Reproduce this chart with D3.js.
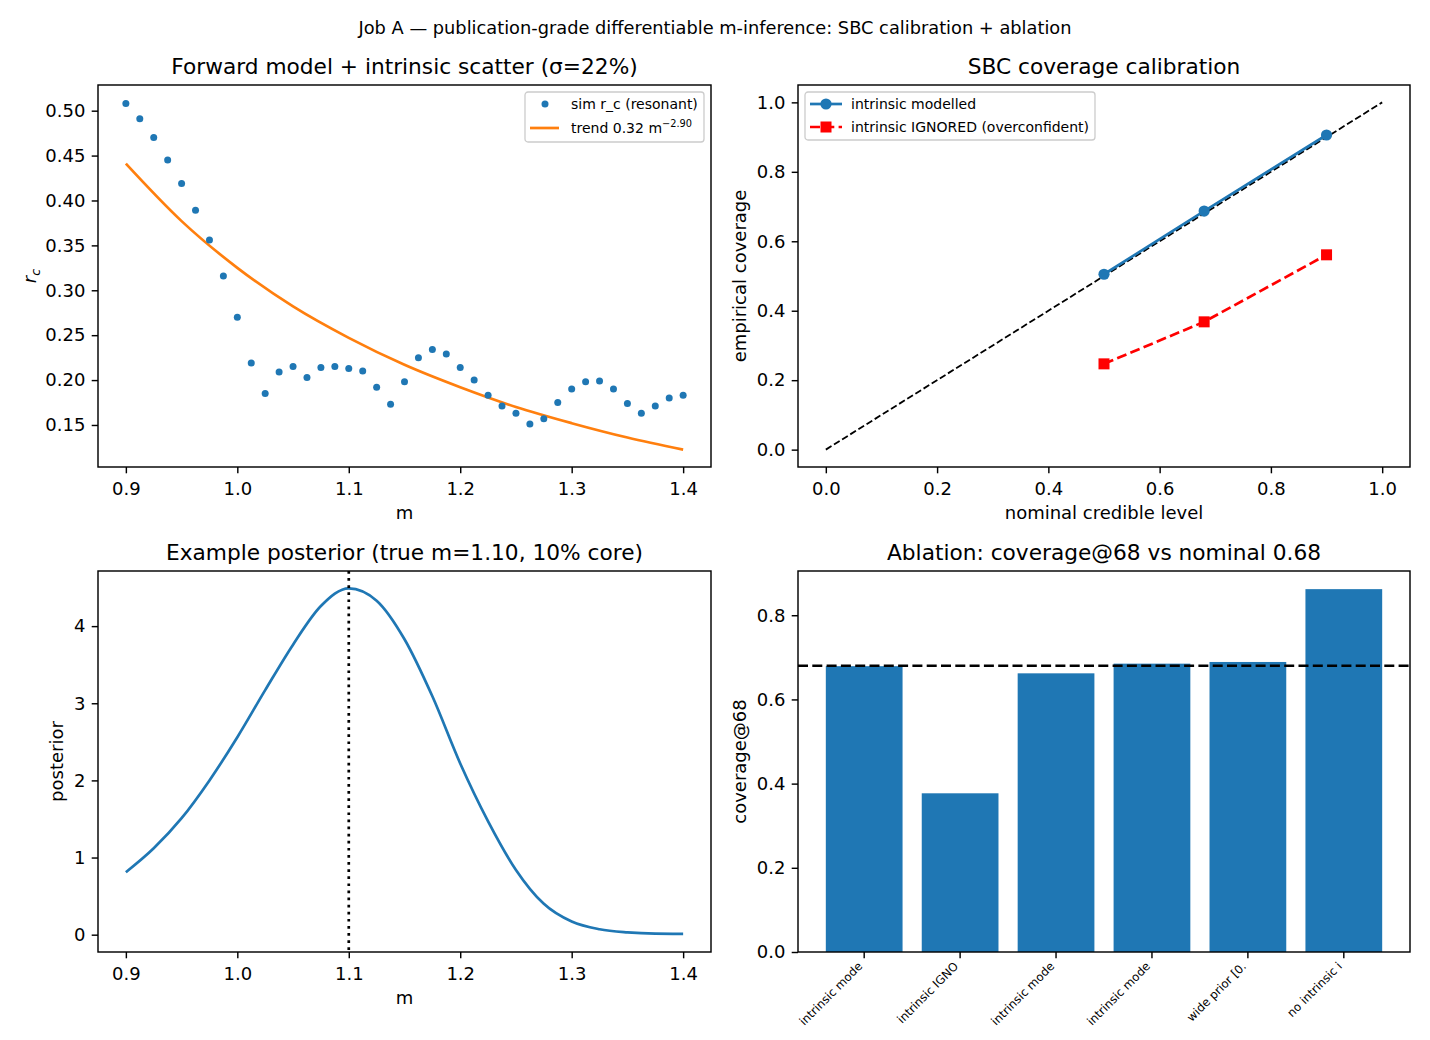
<html>
<head>
<script src="https://cdn.jsdelivr.net/npm/d3@7/dist/d3.min.js"></script>
<style>
  body { margin: 0; background: #fff; }
  text { font-family: "DejaVu Sans", sans-serif; fill: #000; }
</style>
</head>
<body>
<svg id="CANVAS" width="1430" height="1040"></svg>
<script>

// ---- data ----
var simM = [0.9, 0.9125, 0.925, 0.9375, 0.95, 0.9625, 0.975, 0.9875, 1.0, 1.0125,
    1.025, 1.0375, 1.05, 1.0625, 1.075, 1.0875, 1.1, 1.1125, 1.125, 1.1375,
    1.15, 1.1625, 1.175, 1.1875, 1.2, 1.2125, 1.225, 1.2375, 1.25, 1.2625,
    1.275, 1.2875, 1.3, 1.3125, 1.325, 1.3375, 1.35, 1.3625, 1.375, 1.3875, 1.4];
var simRc = [0.508, 0.491, 0.470, 0.445, 0.419, 0.389, 0.356, 0.316, 0.270, 0.219,
    0.185, 0.209, 0.215, 0.203, 0.214, 0.215, 0.213, 0.210, 0.192, 0.173,
    0.198, 0.225, 0.234, 0.229, 0.214, 0.200, 0.183, 0.171, 0.163, 0.151,
    0.157, 0.175, 0.190, 0.198, 0.199, 0.190, 0.174, 0.163, 0.171, 0.180, 0.183];

var trendM = [0.9, 0.95, 1.0, 1.05, 1.1, 1.15, 1.2, 1.25, 1.3, 1.35, 1.4];
var trendRc = [0.441, 0.377, 0.325, 0.282, 0.247, 0.217, 0.192, 0.170, 0.152, 0.136, 0.1225];

var nominal = [0.5, 0.68, 0.9];
var covModelled = [0.505, 0.687, 0.906];
var covIgnored = [0.247, 0.368, 0.561];

var postM = [0.9, 0.925, 0.95, 0.975, 1.0, 1.025, 1.05, 1.075, 1.1, 1.125, 1.15,
    1.175, 1.2, 1.225, 1.25, 1.275, 1.3, 1.325, 1.35, 1.375, 1.4];
var postP = [0.81, 1.12, 1.51, 2.00, 2.56, 3.17, 3.76, 4.26, 4.49, 4.33, 3.83,
    3.09, 2.22, 1.47, 0.84, 0.40, 0.17, 0.07, 0.03, 0.013, 0.01];
var trueM = 1.10;

var ablLabels = ["intrinsic mode", "intrinsic IGNO", "intrinsic mode",
    "intrinsic mode", "wide prior [0.", "no intrinsic i"];
var ablCov = [0.679, 0.377, 0.662, 0.685, 0.689, 0.862];
var nominalLevel = 0.68;

var tlXTicks = [0.9, 1.0, 1.1, 1.2, 1.3, 1.4];
var tlYTicks = [0.15, 0.20, 0.25, 0.30, 0.35, 0.40, 0.45, 0.50];
var trTicks = [0.0, 0.2, 0.4, 0.6, 0.8, 1.0];
var blYTicks = [0, 1, 2, 3, 4];
var brYTicks = [0.0, 0.2, 0.4, 0.6, 0.8];

// ---- style ----
var BLUE = "#1f77b4", ORANGE = "#ff7f0e", RED = "#ff0000";
var FS = 18, TFS = 21.7, LFS = 14, TICK = 6.3, LW = 2.7, SP = 1.44;

var svg = d3.select("#CANVAS");
svg.append("rect").attr("width", 1430).attr("height", 1040).attr("fill", "#fff");

svg.append("text")
    .attr("x", 715).attr("y", 34)
    .attr("text-anchor", "middle")
    .style("font-size", "17.8px")
    .text("Job A \u2014 publication-grade differentiable m-inference: SBC calibration + ablation");

function MakeAxes(o) {
    var g = svg.append("g").attr("transform", "translate(" + o.x0 + "," + o.y0 + ")");
    g.append("defs").append("clipPath").attr("id", o.id)
        .append("rect").attr("width", o.w).attr("height", o.h);
    var plot = g.append("g").attr("clip-path", "url(#" + o.id + ")");

    var xa = g.append("g").attr("transform", "translate(0," + o.h + ")")
        .call(o.xAxis.tickSizeOuter(0).tickSize(TICK).tickPadding(9));
    var ya = g.append("g")
        .call(o.yAxis.tickSizeOuter(0).tickSize(TICK).tickPadding(6.3));
    [xa, ya].forEach(function (a) {
        a.select(".domain").remove();
        a.selectAll("line").attr("stroke", "#000").attr("stroke-width", SP);
        a.selectAll("text").style("font-size", FS + "px").style("font-family", "DejaVu Sans");
    });

    var frame = g.append("rect").attr("class", "frame").attr("width", o.w).attr("height", o.h)
        .attr("fill", "none").attr("stroke", "#000").attr("stroke-width", SP);

    g.append("text").attr("x", o.w / 2).attr("y", -10.8)
        .attr("text-anchor", "middle").style("font-size", TFS + "px").text(o.title);

    if (o.xlabel) {
        g.append("text").attr("x", o.w / 2).attr("y", o.h + 52)
            .attr("text-anchor", "middle").style("font-size", FS + "px").text(o.xlabel);
    }
    return { g: g, plot: plot, xa: xa, ya: ya, frame: frame };
}

function Legend(g, x, y, w, h) {
    var L = g.append("g").attr("transform", "translate(" + x + "," + y + ")");
    L.append("rect").attr("width", w).attr("height", h).attr("rx", 3)
        .attr("fill", "#fff").attr("fill-opacity", 0.8)
        .attr("stroke", "#cccccc").attr("stroke-width", 1.3);
    return L;
}

// ============ top-left: forward model ============
(function () {
    var W = 613, H = 382;
    var x = d3.scaleLinear().domain([0.875, 1.425]).range([0, W]);
    var y = d3.scaleLinear().domain([0.1032, 0.5286]).range([H, 0]);
    var A = MakeAxes({
        id: "c1", x0: 98, y0: 85, w: W, h: H, title: "Forward model + intrinsic scatter (\u03c3=22%)",
        xlabel: "m",
        xAxis: d3.axisBottom(x).tickValues(tlXTicks).tickFormat(d3.format(".1f")),
        yAxis: d3.axisLeft(y).tickValues(tlYTicks).tickFormat(d3.format(".2f"))
    });
    A.plot.append("path")
        .datum(trendM.map(function (m, i) { return [m, trendRc[i]]; }))
        .attr("d", d3.line().x(function (d) { return x(d[0]); }).y(function (d) { return y(d[1]); })
            .curve(d3.curveMonotoneX))
        .attr("fill", "none").attr("stroke", ORANGE).attr("stroke-width", LW);
    A.plot.selectAll("circle.sim").data(simM).enter().append("circle")
        .attr("class", "sim")
        .attr("cx", function (d) { return x(d); })
        .attr("cy", function (d, i) { return y(simRc[i]); })
        .attr("r", 3.5).attr("fill", BLUE);

    var lab = A.g.append("text").attr("transform", "translate(-62," + (H / 2) + ") rotate(-90)")
        .attr("text-anchor", "middle").style("font-size", FS + "px");
    lab.append("tspan").style("font-style", "italic").text("r");
    lab.append("tspan").style("font-style", "italic").style("font-size", "12.6px")
        .attr("dy", 4).text("c");

    var L = Legend(A.g, 427, 7, 179, 50);
    L.append("circle").attr("cx", 20).attr("cy", 12).attr("r", 3.5).attr("fill", BLUE);
    L.append("line").attr("x1", 5).attr("x2", 34).attr("y1", 36).attr("y2", 36)
        .attr("stroke", ORANGE).attr("stroke-width", LW);
    L.append("text").attr("x", 46).attr("y", 17).style("font-size", LFS + "px").text("sim r_c (resonant)");
    var t = L.append("text").attr("x", 46).attr("y", 41).style("font-size", LFS + "px");
    t.append("tspan").text("trend 0.32 m");
    t.append("tspan").attr("dy", -6).style("font-size", "9.8px").text("\u22122.90");
})();

// ============ top-right: SBC coverage ============
(function () {
    var W = 612, H = 382;
    var x = d3.scaleLinear().domain([-0.05, 1.05]).range([0, W]);
    var y = d3.scaleLinear().domain([-0.05, 1.05]).range([H, 0]);
    var A = MakeAxes({
        id: "c2", x0: 798, y0: 85, w: W, h: H, title: "SBC coverage calibration",
        xlabel: "nominal credible level",
        xAxis: d3.axisBottom(x).tickValues(trTicks).tickFormat(d3.format(".1f")),
        yAxis: d3.axisLeft(y).tickValues(trTicks).tickFormat(d3.format(".1f"))
    });
    A.g.append("text").attr("transform", "translate(-52," + (H / 2) + ") rotate(-90)")
        .attr("text-anchor", "middle").style("font-size", FS + "px").text("empirical coverage");

    var line = d3.line().x(function (d) { return x(d[0]); }).y(function (d) { return y(d[1]); });
    A.plot.append("path").datum([[0, 0], [1, 1]]).attr("d", line)
        .attr("fill", "none").attr("stroke", "#000").attr("stroke-width", 1.8)
        .attr("stroke-dasharray", "6.7,2.9");

    var pm = nominal.map(function (n, i) { return [n, covModelled[i]]; });
    A.plot.append("path").datum(pm).attr("d", line)
        .attr("fill", "none").attr("stroke", BLUE).attr("stroke-width", LW);
    A.plot.selectAll("circle.mod").data(pm).enter().append("circle")
        .attr("cx", function (d) { return x(d[0]); }).attr("cy", function (d) { return y(d[1]); })
        .attr("r", 5.6).attr("fill", BLUE);

    var pi = nominal.map(function (n, i) { return [n, covIgnored[i]]; });
    A.plot.append("path").datum(pi).attr("d", line)
        .attr("fill", "none").attr("stroke", RED).attr("stroke-width", LW)
        .attr("stroke-dasharray", "10,4.3");
    A.plot.selectAll("rect.ign").data(pi).enter().append("rect")
        .attr("x", function (d) { return x(d[0]) - 5.5; }).attr("y", function (d) { return y(d[1]) - 5.5; })
        .attr("width", 11).attr("height", 11).attr("fill", RED);

    var L = Legend(A.g, 7, 7, 290, 48);
    L.append("line").attr("x1", 5).attr("x2", 37).attr("y1", 12).attr("y2", 12)
        .attr("stroke", BLUE).attr("stroke-width", LW);
    L.append("circle").attr("cx", 21).attr("cy", 12).attr("r", 5.6).attr("fill", BLUE);
    L.append("line").attr("x1", 5).attr("x2", 37).attr("y1", 35).attr("y2", 35)
        .attr("stroke", RED).attr("stroke-width", LW).attr("stroke-dasharray", "10,4.3");
    L.append("rect").attr("x", 15.5).attr("y", 29.5).attr("width", 11).attr("height", 11).attr("fill", RED);
    L.append("text").attr("x", 46).attr("y", 17).style("font-size", LFS + "px").text("intrinsic modelled");
    L.append("text").attr("x", 46).attr("y", 40).style("font-size", LFS + "px").text("intrinsic IGNORED (overconfident)");
})();

// ============ bottom-left: posterior ============
(function () {
    var W = 613, H = 381;
    var x = d3.scaleLinear().domain([0.875, 1.425]).range([0, W]);
    var y = d3.scaleLinear().domain([-0.2245, 4.7145]).range([H, 0]);
    var A = MakeAxes({
        id: "c3", x0: 98, y0: 571, w: W, h: H, title: "Example posterior (true m=1.10, 10% core)",
        xlabel: "m",
        xAxis: d3.axisBottom(x).tickValues(tlXTicks).tickFormat(d3.format(".1f")),
        yAxis: d3.axisLeft(y).tickValues(blYTicks).tickFormat(d3.format("d"))
    });
    A.g.append("text").attr("transform", "translate(-35," + (H / 2) + ") rotate(-90)")
        .attr("text-anchor", "middle").style("font-size", FS + "px").text("posterior");

    A.plot.append("path")
        .datum(postM.map(function (m, i) { return [m, postP[i]]; }))
        .attr("d", d3.line().x(function (d) { return x(d[0]); }).y(function (d) { return y(d[1]); })
            .curve(d3.curveMonotoneX))
        .attr("fill", "none").attr("stroke", BLUE).attr("stroke-width", LW);
    A.plot.append("line").attr("x1", x(trueM)).attr("x2", x(trueM)).attr("y1", 0).attr("y2", H)
        .attr("stroke", "#000").attr("stroke-width", LW).attr("stroke-dasharray", "2.7,4.4");
})();

// ============ bottom-right: ablation ============
(function () {
    var W = 612, H = 381;
    var x = d3.scaleBand().domain(d3.range(ablLabels.length)).range([0, W])
        .paddingInner(0.2).paddingOuter(0.29);
    var y = d3.scaleLinear().domain([0, d3.max(ablCov) * 1.05]).range([H, 0]);
    var A = MakeAxes({
        id: "c4", x0: 798, y0: 571, w: W, h: H, title: "Ablation: coverage@68 vs nominal 0.68",
        xAxis: d3.axisBottom(x).tickFormat(function (i) { return ablLabels[i]; }),
        yAxis: d3.axisLeft(y).tickValues(brYTicks).tickFormat(d3.format(".1f"))
    });
    A.xa.selectAll("text")
        .attr("text-anchor", "end")
        .attr("dy", null).attr("y", null)
        .attr("transform", "translate(-1,15) rotate(-45)")
        .style("font-size", "11.7px");
    A.g.append("text").attr("transform", "translate(-52," + (H / 2) + ") rotate(-90)")
        .attr("text-anchor", "middle").style("font-size", FS + "px").text("coverage@68");

    A.plot.selectAll("rect.bar").data(ablCov).enter().append("rect")
        .attr("x", function (d, i) { return x(i); })
        .attr("width", x.bandwidth())
        .attr("y", function (d) { return y(d); })
        .attr("height", function (d) { return H - y(d); })
        .attr("fill", BLUE);
    A.plot.append("line").attr("x1", 0).attr("x2", W)
        .attr("y1", y(nominalLevel)).attr("y2", y(nominalLevel))
        .attr("stroke", "#000").attr("stroke-width", LW).attr("stroke-dasharray", "10,4.3");
    A.frame.raise();
})();

</script>
</body>
</html>
